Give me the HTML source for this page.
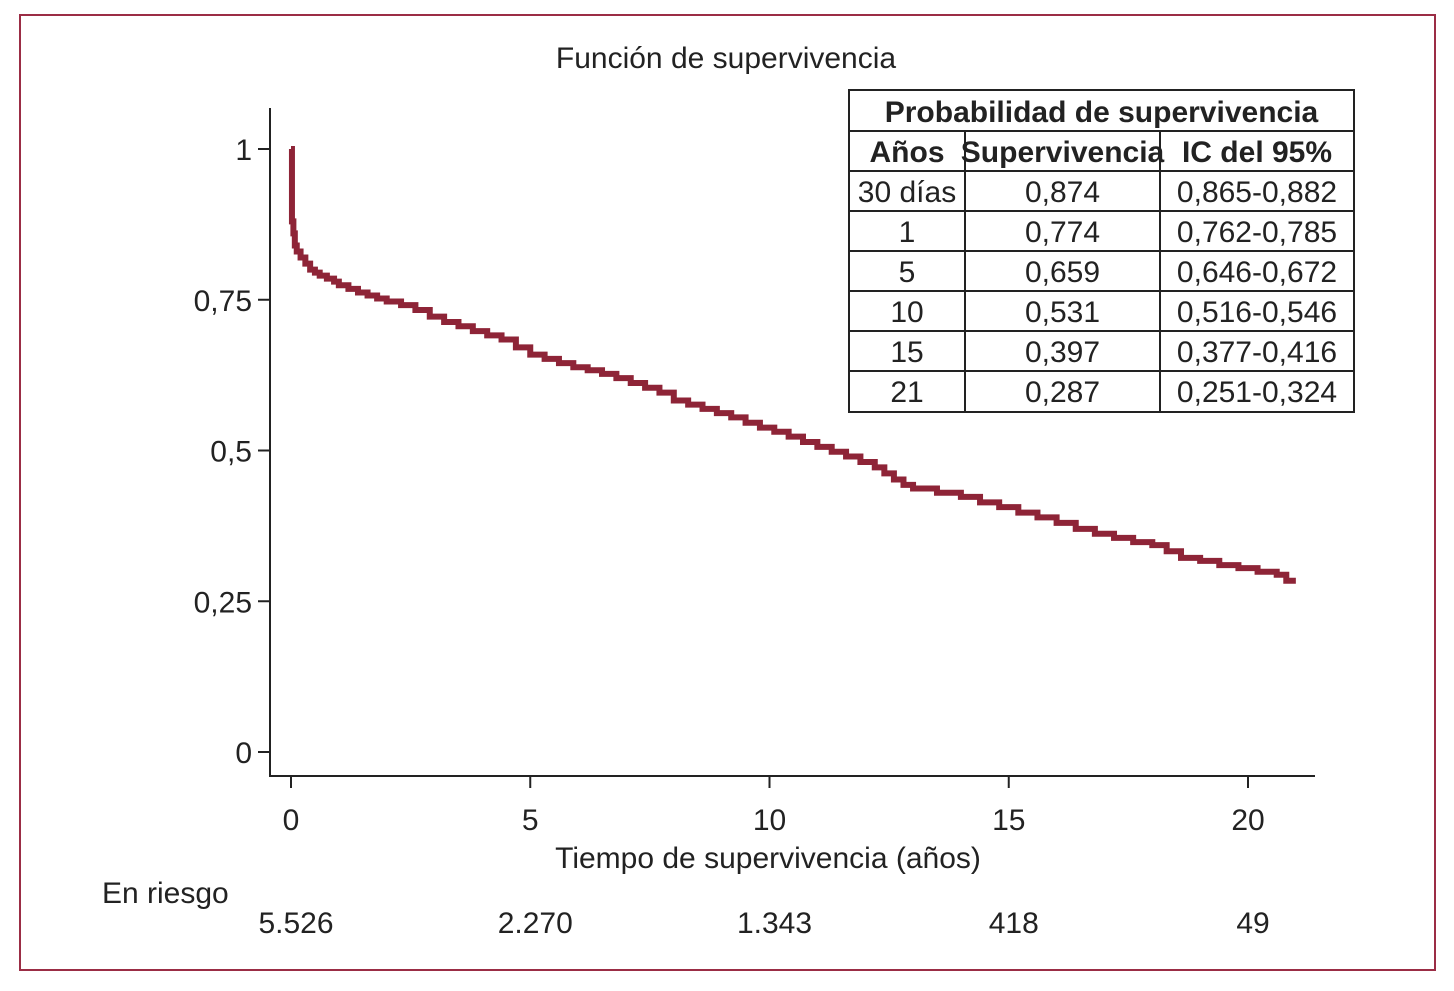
<!DOCTYPE html>
<html><head><meta charset="utf-8"><style>
html,body{margin:0;padding:0;background:#fff}
svg{display:block;font-family:"Liberation Sans Narrow","Liberation Sans",sans-serif}
</style></head><body>
<svg id="c" width="1454" height="991" viewBox="0 0 1454 991">
<rect x="20" y="15" width="1415" height="955" fill="#fff" stroke="#9b2d45" stroke-width="2"/>
<text x="726" y="68" text-anchor="middle" font-size="30" fill="#222">Función de supervivencia</text>
<g id="axes"></g>
<path id="curve" fill="none" stroke="#8e2437" stroke-width="6"/>
<g id="tbl"></g>
<text x="768" y="868" text-anchor="middle" font-size="30" fill="#222">Tiempo de supervivencia (años)</text>
<text x="102" y="903" font-size="30" fill="#222">En riesgo</text>
</svg>
<script>
const times=[0,0.02,0.05,0.08,0.12,0.2,0.3,0.4,0.5,0.6,0.75,0.9,1.0,1.2,1.4,1.6,1.8,2.0,2.3,2.6,2.9,3.2,3.5,3.8,4.1,4.4,4.7,5.0,5.3,5.6,5.9,6.2,6.5,6.8,7.1,7.4,7.7,8.0,8.3,8.6,8.9,9.2,9.5,9.8,10.1,10.4,10.7,11.0,11.3,11.6,11.9,12.2,12.4,12.6,12.8,13.0,13.5,14.0,14.4,14.8,15.2,15.6,16.0,16.4,16.8,17.2,17.6,18.0,18.3,18.6,19.0,19.4,19.8,20.2,20.6,20.8];
const surv=[1.0,0.88,0.86,0.84,0.83,0.82,0.81,0.80,0.795,0.79,0.785,0.78,0.774,0.768,0.762,0.757,0.752,0.747,0.741,0.733,0.722,0.713,0.706,0.698,0.691,0.684,0.671,0.659,0.652,0.645,0.638,0.633,0.627,0.620,0.612,0.604,0.596,0.583,0.576,0.569,0.562,0.555,0.546,0.538,0.531,0.523,0.514,0.506,0.498,0.490,0.481,0.472,0.462,0.452,0.443,0.437,0.430,0.423,0.414,0.406,0.397,0.389,0.380,0.370,0.362,0.355,0.348,0.343,0.333,0.322,0.317,0.310,0.305,0.299,0.294,0.284];
const tEnd=21.0;
const xTicks=[0,5,10,15,20];
const yTicks=[0,0.25,0.5,0.75,1];
const yTickLabels=["0","0,25","0,5","0,75","1"];
const atRisk=["5.526","2.270","1.343","418","49"];
const tblHead=["Años","Supervivencia","IC del 95%"];
const tblYears=["30 días","1","5","10","15","21"];
const tblSurv=["0,874","0,774","0,659","0,531","0,397","0,287"];
const tblCI=["0,865-0,882","0,762-0,785","0,646-0,672","0,516-0,546","0,377-0,416","0,251-0,324"];

const X=t=>291+t*47.85, Y=v=>752-v*603;
const NS="http://www.w3.org/2000/svg";
function mk(tag,attrs,parent,txt){const e=document.createElementNS(NS,tag);for(const k in attrs)e.setAttribute(k,attrs[k]);if(txt!==undefined)e.textContent=txt;parent.appendChild(e);return e;}
const ax=document.getElementById('axes'), svg=document.getElementById('c');
let l=mk('line',{x1:270,y1:108,x2:270,y2:777,stroke:'#222','stroke-width':2},ax);


l=mk('line',{x1:269,y1:776,x2:1315,y2:776,stroke:'#222','stroke-width':2},ax);


yTicks.forEach((v,i)=>{
  const t=mk('line',{x1:258,x2:270,y1:Y(v),y2:Y(v),stroke:'#222','stroke-width':2},ax);
  
  
  const s=mk('text',{x:252,y:Y(v)+11,'text-anchor':'end','font-size':30,fill:'#222'},ax,yTickLabels[i]);
  
  
});
xTicks.forEach((v,i)=>{
  const t=mk('line',{x1:X(v),x2:X(v),y1:776,y2:788,stroke:'#222','stroke-width':2},ax);
  
  
  const s=mk('text',{x:X(v),y:830,'text-anchor':'middle','font-size':30,fill:'#222'},ax,String(v));
  
  
  const r=mk('text',{x:X(v)+5,y:933,'text-anchor':'middle','font-size':30,fill:'#222'},ax,atRisk[i]);
  
  
});
let d='M'+X(times[0])+' '+Y(surv[0]);
for(let i=1;i<times.length;i++){d+=' H'+X(times[i])+' V'+Y(surv[i]);}
d+=' H'+X(tEnd);
document.getElementById('curve').setAttribute('d',d);

const tb=document.getElementById('tbl');
const tx0=849,tx1=1354,c1=965,c2=1160,rowTop=[90,131,171,211,251,291,331,371,412];
mk('rect',{x:tx0,y:90,width:tx1-tx0,height:322,fill:'#fff',stroke:'#222','stroke-width':2},tb);
for(let i=1;i<rowTop.length-1;i++) mk('line',{x1:tx0,x2:tx1,y1:rowTop[i],y2:rowTop[i],stroke:'#222','stroke-width':2},tb);
[c1,c2].forEach(x=>mk('line',{x1:x,x2:x,y1:131,y2:412,stroke:'#222','stroke-width':2},tb));
mk('text',{x:(tx0+tx1)/2,y:122,'text-anchor':'middle','font-size':30,'font-weight':'bold',fill:'#222'},tb,'Probabilidad de supervivencia');
const cx=[(tx0+c1)/2,(c1+c2)/2,(c2+tx1)/2];
tblHead.forEach((h,i)=>mk('text',{x:cx[i],y:162,'text-anchor':'middle','font-size':30,'font-weight':'bold',fill:'#222'},tb,h));
tblYears.forEach((y,r)=>{
  const yy=rowTop[r+2]+31;
  [y,tblSurv[r],tblCI[r]].forEach((s,i)=>{
    const e=mk('text',{x:cx[i],y:yy,'text-anchor':'middle','font-size':30,fill:'#222'},tb,s);
    
    
  });
});
</script>
</body></html>
